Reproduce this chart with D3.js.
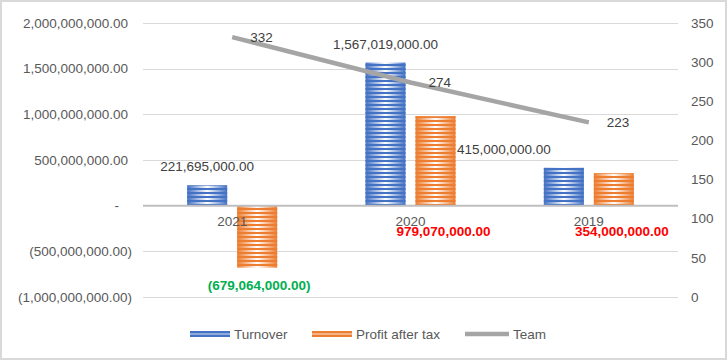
<!DOCTYPE html>
<html>
<head>
<meta charset="utf-8">
<script src="https://cdn.jsdelivr.net/npm/d3@7"></script>
<style>
  body { margin: 0; background: #fff; }
  text { font-family: "Liberation Sans", Arial, sans-serif; }
</style>
</head>
<body>
<svg id="chart" width="728" height="361"></svg>
<script>
// data
const years = ["2021", "2020", "2019"];
const turnover = [221695000, 1567019000, 415000000];
const profit = [-679064000, 979070000, 354000000];
const team = [332, 274, 223];
const leftTicks = [-1000000000, -500000000, 0, 500000000, 1000000000, 1500000000, 2000000000];
const rightTicks = [0, 50, 100, 150, 200, 250, 300, 350];

const svg = d3.select("#chart");
const W = 728, H = 361;
const plotL = 143, plotR = 678, plotT = 23, plotB = 297;

// chart border
svg.append("rect")
  .attr("x", 1).attr("y", 1)
  .attr("width", W - 3).attr("height", H - 3)
  .attr("fill", "#fff").attr("stroke", "#d9d9d9").attr("stroke-width", 2);

const x = d3.scaleBand().domain(years).range([plotL, plotR]);
const xSub = d3.scaleBand().domain(["Turnover", "Profit"]).range([-45, 45]).paddingInner(0.2);
const y = d3.scaleLinear().domain([-1000000000, 2000000000]).range([plotB, plotT]);
const y2 = d3.scaleLinear().domain([0, 350]).range([plotB, plotT]);

// striped gradient fills
const defs = svg.append("defs");
function makeFill(id, color) {
  const g = defs.append("linearGradient").attr("id", id + "-grad")
    .attr("x1", "0").attr("x2", "1").attr("y1", "0").attr("y2", "0");
  g.append("stop").attr("offset", "0%").attr("stop-color", color);
  g.append("stop").attr("offset", "50%").attr("stop-color", "#ffffff");
  g.append("stop").attr("offset", "100%").attr("stop-color", color);
  const p = defs.append("pattern").attr("id", id + "-lines")
    .attr("patternUnits", "userSpaceOnUse").attr("width", 8).attr("height", 4);
  p.append("rect").attr("x", 0).attr("y", 0).attr("width", 8).attr("height", 2).attr("fill", color);
}
makeFill("blue", "#4472c4");
makeFill("orange", "#ed7d31");

// gridlines
svg.append("g")
  .selectAll("line")
  .data(leftTicks.filter(d => d !== 0))
  .join("line")
  .attr("x1", plotL).attr("x2", plotR)
  .attr("y1", d => Math.round(y(d)) + 0.5).attr("y2", d => Math.round(y(d)) + 0.5)
  .attr("stroke", "#d9d9d9").attr("stroke-width", 1);

// left axis labels
const fmt = d3.format(",.2f");
svg.append("g")
  .selectAll("text")
  .data(leftTicks)
  .join("text")
  .attr("x", d => d < 0 ? 132 : (d === 0 ? 119 : 128))
  .attr("y", d => y(d))
  .attr("dy", "0.35em")
  .attr("text-anchor", "end")
  .attr("font-size", 13.5)
  .attr("fill", "#595959")
  .text(d => d === 0 ? "-" : (d < 0 ? "(" + fmt(-d) + ")" : fmt(d)));

// right axis labels
svg.append("g")
  .selectAll("text")
  .data(rightTicks)
  .join("text")
  .attr("x", 691)
  .attr("y", d => y2(d))
  .attr("dy", "0.35em")
  .attr("font-size", 13.5)
  .attr("fill", "#595959")
  .text(d => d);

// bars
function drawBars(values, id) {
  const g = svg.append("g");
  const rows = years.map((yr, i) => ({ yr, v: values[i] }));
  const bx = d => x(d.yr) + x.bandwidth() / 2 + xSub(id === "blue" ? "Turnover" : "Profit");
  const by = d => Math.min(y(d.v), y(0));
  const bh = d => Math.abs(y(d.v) - y(0));
  g.selectAll("rect.base").data(rows).join("rect")
    .attr("x", bx).attr("y", by).attr("width", xSub.bandwidth()).attr("height", bh)
    .attr("fill", `url(#${id}-grad)`);
  g.selectAll("rect.lines").data(rows).join("rect")
    .attr("x", bx).attr("y", by).attr("width", xSub.bandwidth()).attr("height", bh)
    .attr("fill", `url(#${id}-lines)`);
}
drawBars(turnover, "blue");
drawBars(profit, "orange");

// zero axis line
svg.append("line")
  .attr("x1", plotL).attr("x2", plotR)
  .attr("y1", y(0)).attr("y2", y(0))
  .attr("stroke", "#bfbfbf").attr("stroke-width", 2);

// category labels
svg.append("g")
  .selectAll("text")
  .data(years)
  .join("text")
  .attr("x", d => x(d) + x.bandwidth() / 2)
  .attr("y", y(0) + 20)
  .attr("text-anchor", "middle")
  .attr("font-size", 13.5)
  .attr("fill", "#595959")
  .text(d => d);

// team line
const line = d3.line()
  .x((d, i) => x(years[i]) + x.bandwidth() / 2)
  .y(d => y2(d));
svg.append("path")
  .datum(team)
  .attr("d", line)
  .attr("fill", "none")
  .attr("stroke", "#a5a5a5")
  .attr("stroke-width", 4.5);

// turnover labels
const turnoverShift = [0, 0, -60];
svg.append("g")
  .selectAll("text")
  .data(turnover)
  .join("text")
  .attr("x", (d, i) => x(years[i]) + x.bandwidth() / 2 + xSub("Turnover") + xSub.bandwidth() / 2 + turnoverShift[i])
  .attr("y", d => y(d) - 14)
  .attr("text-anchor", "middle")
  .attr("font-size", 13.5)
  .attr("fill", "#404040")
  .text(d => fmt(d));

// profit labels
svg.append("g")
  .selectAll("text")
  .data(profit)
  .join("text")
  .attr("x", (d, i) => x(years[i]) + x.bandwidth() / 2 + xSub("Profit") + xSub.bandwidth() / 2 + (d < 0 ? 2 : 8))
  .attr("y", d => d < 0 ? y(d) + 22 : y(0) + 30)
  .attr("text-anchor", "middle")
  .attr("font-size", 13.5)
  .attr("font-weight", "bold")
  .attr("fill", d => d < 0 ? "#00b050" : "#ff0000")
  .text(d => d < 0 ? "(" + fmt(-d) + ")" : fmt(d));

// team labels
svg.append("g")
  .selectAll("text")
  .data(team)
  .join("text")
  .attr("x", (d, i) => x(years[i]) + x.bandwidth() / 2 + 18)
  .attr("y", d => y2(d))
  .attr("dy", "0.35em")
  .attr("font-size", 13.5)
  .attr("fill", "#404040")
  .text(d => d);

// legend
const legend = [
  { name: "Turnover", id: "blue", x: 190 },
  { name: "Profit after tax", id: "orange", x: 312 },
  { name: "Team", id: "line", x: 465 }
];
const lg = svg.append("g");
legend.forEach(l => {
  if (l.id === "line") {
    lg.append("line").attr("x1", l.x).attr("x2", l.x + 44)
      .attr("y1", 334).attr("y2", 334)
      .attr("stroke", "#a5a5a5").attr("stroke-width", 4.5);
  } else {
    lg.append("rect").attr("x", l.x).attr("y", 331).attr("width", 40).attr("height", 6)
      .attr("fill", l.id === "blue" ? "#4472c4" : "#ed7d31");
    lg.append("rect").attr("x", l.x).attr("y", 333.5).attr("width", 40).attr("height", 1)
      .attr("fill", "#ffffff").attr("opacity", 0.8);
  }
  lg.append("text")
    .attr("x", l.x + (l.id === "line" ? 48 : 44))
    .attr("y", 334).attr("dy", "0.35em")
    .attr("font-size", 13.5).attr("fill", "#595959")
    .text(l.name);
});
</script>
</body>
</html>
